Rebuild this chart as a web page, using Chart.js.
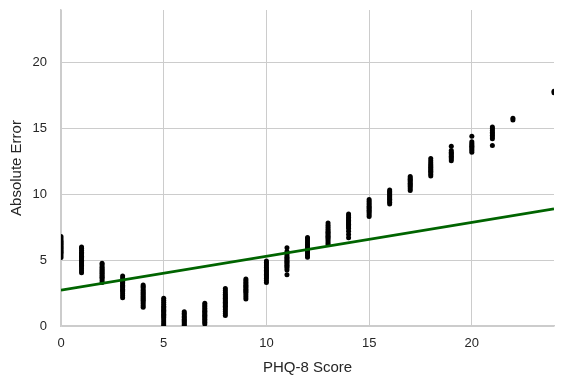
<!DOCTYPE html>
<html>
<head>
<meta charset="utf-8">
<script src="https://cdn.jsdelivr.net/npm/chart.js@4.4.1/dist/chart.umd.min.js"></script>
<style>
  html, body { margin: 0; padding: 0; background: #fff; }
  #wrap { width: 566px; height: 384px; }
</style>
</head>
<body>
<div id="wrap"><canvas id="errChart" width="566" height="384"></canvas></div>
<script>
// PHQ-8 score for each cluster of points
const scores = [0, 1, 2, 3, 4, 5, 6, 7, 8, 9, 10, 11, 12, 13, 14, 15, 16, 17, 18, 19, 20, 21, 22, 24];

// absolute errors observed at each score (same order as scores)
const errorsByScore = [
    [5.2, 5.35, 5.5, 5.6, 5.7, 5.8, 5.9, 6.0, 6.1, 6.2, 6.3, 6.4, 6.5, 6.65, 6.8],
    [4.05, 4.2, 4.35, 4.5, 4.6, 4.7, 4.8, 4.9, 5.0, 5.1, 5.2, 5.3, 5.4, 5.5, 5.6, 5.75, 5.9, 6.0],
    [3.3, 3.45, 3.6, 3.7, 3.8, 3.9, 4.0, 4.1, 4.2, 4.3, 4.4, 4.5, 4.65, 4.77],
    [2.15, 2.3, 2.45, 2.6, 2.7, 2.8, 2.9, 3.0, 3.1, 3.2, 3.3, 3.4, 3.5, 3.65, 3.8],
    [1.42, 1.55, 1.7, 1.85, 1.95, 2.05, 2.15, 2.25, 2.35, 2.45, 2.55, 2.65, 2.75, 2.9, 3.0, 3.12],
    [0.02, 0.15, 0.3, 0.45, 0.6, 0.7, 0.8, 0.9, 1.0, 1.1, 1.2, 1.3, 1.4, 1.5, 1.65, 1.8, 1.95, 2.1],
    [0.02, 0.12, 0.22, 0.32, 0.42, 0.52, 0.62, 0.72, 0.85, 0.97, 1.08],
    [0.15, 0.28, 0.4, 0.52, 0.62, 0.72, 0.82, 0.92, 1.02, 1.12, 1.22, 1.35, 1.48, 1.6, 1.72],
    [0.8, 0.95, 1.1, 1.25, 1.38, 1.5, 1.6, 1.7, 1.8, 1.9, 2.0, 2.1, 2.2, 2.3, 2.42, 2.55, 2.7, 2.85],
    [2.05, 2.2, 2.35, 2.5, 2.6, 2.7, 2.8, 2.9, 3.0, 3.1, 3.2, 3.32, 3.45, 3.57],
    [3.3, 3.45, 3.6, 3.72, 3.82, 3.92, 4.02, 4.12, 4.22, 4.32, 4.45, 4.58, 4.7, 4.82, 4.93],
    [3.9, 4.25, 4.4, 4.52, 4.62, 4.72, 4.82, 4.92, 5.02, 5.12, 5.22, 5.35, 5.5, 5.65, 5.95],
    [5.22, 5.35, 5.48, 5.6, 5.7, 5.8, 5.9, 6.0, 6.1, 6.2, 6.32, 6.45, 6.6, 6.73],
    [6.2, 6.35, 6.5, 6.62, 6.72, 6.82, 6.92, 7.02, 7.12, 7.22, 7.35, 7.5, 7.65, 7.82],
    [6.7, 6.95, 7.2, 7.4, 7.52, 7.62, 7.72, 7.82, 7.92, 8.02, 8.12, 8.24, 8.37, 8.5],
    [8.32, 8.45, 8.58, 8.7, 8.8, 8.9, 9.0, 9.1, 9.22, 9.35, 9.48, 9.6],
    [9.27, 9.4, 9.52, 9.62, 9.72, 9.82, 9.92, 10.02, 10.12, 10.22, 10.33],
    [10.3, 10.42, 10.55, 10.65, 10.75, 10.85, 10.95, 11.05, 11.15, 11.25, 11.35],
    [11.4, 11.52, 11.65, 11.75, 11.85, 11.95, 12.05, 12.15, 12.27, 12.4, 12.55, 12.72],
    [12.55, 12.68, 12.8, 12.9, 13.0, 13.1, 13.2, 13.32, 13.65],
    [13.2, 13.32, 13.44, 13.55, 13.65, 13.75, 13.87, 14.0, 14.42],
    [13.7, 14.22, 14.35, 14.48, 14.6, 14.72, 14.85, 14.98, 15.12],
    [15.65, 15.78],
    [17.72, 17.82]
];

// fitted trend line end points
const fitX = [0, 24];
const fitY = [2.72, 8.9];

const xTicks = [0, 5, 10, 15, 20];
const yTicks = [0, 5, 10, 15, 20];

const points = [];
scores.forEach((s, i) => {
    errorsByScore[i].forEach(e => points.push({ x: s, y: e }));
});

const textColor = '#262626';
const gridColor = '#cccccc';
const font = 'Liberation Sans, Arial, sans-serif';

new Chart(document.getElementById('errChart'), {
    type: 'scatter',
    data: {
        datasets: [{
            label: 'Fit',
            type: 'line',
            data: fitX.map((x, i) => ({ x: x, y: fitY[i] })),
            borderColor: '#006400',
            borderWidth: 2.8,
            pointRadius: 0,
            fill: false,
            order: 0
        }, {
            label: 'Absolute Error',
            data: points,
            backgroundColor: '#000000',
            borderWidth: 0,
            pointRadius: 2.5,
            order: 1
        }]
    },
    options: {
        responsive: false,
        animation: false,
        layout: { padding: { left: 0, top: 10, right: 12, bottom: 0 } },
        plugins: {
            legend: { display: false },
            tooltip: { enabled: false }
        },
        scales: {
            x: {
                type: 'linear',
                min: 0,
                max: 24,
                afterFit: s => { s.height = 58; s.paddingLeft = 0; s.paddingRight = 0; },
                afterBuildTicks: s => { s.ticks = xTicks.map(v => ({ value: v })); },
                ticks: { color: textColor, font: { family: font, size: 13 }, padding: 10 },
                grid: { color: gridColor, lineWidth: 1, drawTicks: false },
                border: { color: gridColor, width: 1.5 },
                title: {
                    display: true, text: 'PHQ-8 Score', color: textColor,
                    font: { family: font, size: 15 }, padding: { top: 0, bottom: 7 }
                }
            },
            y: {
                type: 'linear',
                min: 0,
                max: 24,
                afterFit: s => { s.width = 61; s.paddingTop = 0; s.paddingBottom = 0; },
                afterBuildTicks: s => { s.ticks = yTicks.map(v => ({ value: v })); },
                ticks: { color: textColor, font: { family: font, size: 13 }, padding: 14 },
                grid: { color: gridColor, lineWidth: 1, drawTicks: false },
                border: { color: gridColor, width: 1.5 },
                title: {
                    display: true, text: 'Absolute Error', color: textColor,
                    font: { family: font, size: 15 }, padding: { top: 8, bottom: 8 }
                }
            }
        }
    }
});
</script>
</body>
</html>
